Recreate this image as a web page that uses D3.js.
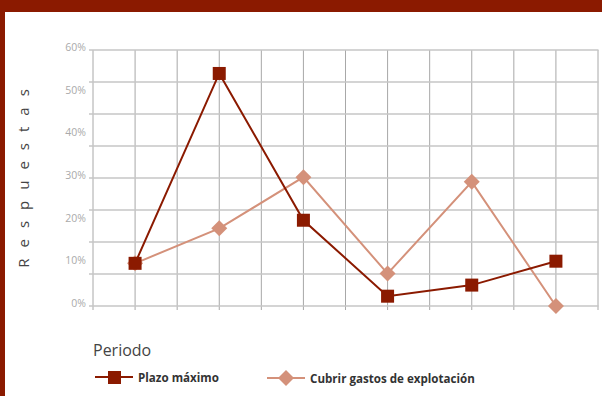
<!DOCTYPE html>
<html>
<head>
<meta charset="utf-8">
<script src="https://cdn.jsdelivr.net/npm/d3@7"></script>
<style>
  html, body { margin: 0; padding: 0; background: #fff; }
  svg { display: block; }
</style>
</head>
<body>
<svg id="chart" width="602" height="396"></svg>
<script>
// Periods (six points along the x axis, unlabeled)
const periods = ["P1", "P2", "P3", "P4", "P5", "P6"];
// Share of responses per period
const plazoMaximo = [0.100, 0.545, 0.201, 0.023, 0.049, 0.105];
const cubrirGastos = [0.100, 0.182, 0.302, 0.076, 0.291, 0.000];
// Y tick labels
const yTickValues = [0, 0.1, 0.2, 0.3, 0.4, 0.5, 0.6];
const seriesNames = ["Plazo máximo", "Cubrir gastos de explotación"];

const W = 602, H = 396;
const dark = "#8b1a00", light = "#d4917a";
const svg = d3.select("#chart");

// frame: top band and left band
svg.append("rect").attr("x", 0).attr("y", 0).attr("width", W).attr("height", 12).attr("fill", dark);
svg.append("rect").attr("x", 0).attr("y", 0).attr("width", 5).attr("height", H).attr("fill", dark);

const plotLeft = 93, plotRight = 598, plotTop = 50, plotBottom = 306;
const x = d3.scalePoint().domain(periods).range([plotLeft, plotRight]).padding(0.5);
const y = d3.scaleLinear().domain([0, 0.6]).range([plotBottom, plotTop]);
const step = x.step();

// vertical grid: one line every half step, with small ticks below the axis
const vLines = d3.range(0, periods.length * 2 + 1).map(k => plotLeft + k * step / 2);
svg.append("g").selectAll("line").data(vLines).join("line")
  .attr("x1", d => d).attr("x2", d => d)
  .attr("y1", plotTop).attr("y2", plotBottom + 4)
  .attr("stroke", "#a8a8a8").attr("stroke-width", 1);

// horizontal grid every 7.5%
const hVals = d3.range(0, 9).map(k => k * 0.075);
svg.append("g").selectAll("line").data(hVals).join("line")
  .attr("x1", plotLeft - 4).attr("x2", plotRight + 0.5)
  .attr("y1", d => y(d)).attr("y2", d => y(d))
  .attr("stroke", "#c6c6c6").attr("stroke-width", 1.6);

// y tick labels
svg.append("g").selectAll("text").data(yTickValues).join("text")
  .attr("x", 86).attr("y", d => y(d) - 3)
  .attr("text-anchor", "end").attr("dominant-baseline", "central")
  .attr("font-family", "Open Sans, sans-serif").attr("font-size", 10.5)
  .attr("fill", "#aaaaaa")
  .text(d => d3.format(".0%")(d));

// y axis title with spaced letters
svg.append("text")
  .attr("transform", `translate(29,173) rotate(-90)`)
  .attr("text-anchor", "middle")
  .attr("font-family", "Open Sans, sans-serif").attr("font-size", 15)
  .attr("letter-spacing", 11)
  .attr("fill", "#444")
  .text("Respuestas");

const line = d3.line().x((d, i) => x(periods[i])).y(d => y(d));

// lighter series first so the dark markers sit on top
svg.append("path").datum(cubrirGastos).attr("d", line)
  .attr("fill", "none").attr("stroke", light).attr("stroke-width", 2);
svg.append("g").selectAll("path").data(cubrirGastos).join("path")
  .attr("d", d3.symbol().type(d3.symbolSquare).size(128))
  .attr("transform", (d, i) => `translate(${x(periods[i])},${y(d)}) rotate(45)`)
  .attr("fill", light);

svg.append("path").datum(plazoMaximo).attr("d", line)
  .attr("fill", "none").attr("stroke", dark).attr("stroke-width", 2);
svg.append("g").selectAll("rect").data(plazoMaximo).join("rect")
  .attr("x", (d, i) => x(periods[i]) - 6.5).attr("y", d => y(d) - 6.5)
  .attr("width", 13).attr("height", 13)
  .attr("fill", dark);

// x axis title
svg.append("text")
  .attr("x", 93).attr("y", 356)
  .attr("font-family", "Open Sans, sans-serif").attr("font-size", 16)
  .attr("fill", "#444")
  .text("Periodo");

// legend
const legend = svg.append("g").attr("font-family", "Open Sans, sans-serif")
  .attr("font-size", 11.6).attr("font-weight", "bold").attr("fill", "#333");
legend.append("line").attr("x1", 95).attr("x2", 133).attr("y1", 377).attr("y2", 377)
  .attr("stroke", dark).attr("stroke-width", 2);
legend.append("rect").attr("x", 108).attr("y", 371).attr("width", 13).attr("height", 13).attr("fill", dark);
legend.append("text").attr("x", 138).attr("y", 377).attr("dominant-baseline", "central").text(seriesNames[0]);

legend.append("line").attr("x1", 267).attr("x2", 305).attr("y1", 378).attr("y2", 378)
  .attr("stroke", light).attr("stroke-width", 2);
legend.append("path").attr("d", d3.symbol().type(d3.symbolSquare).size(128))
  .attr("transform", "translate(286,378) rotate(45)").attr("fill", light);
legend.append("text").attr("x", 310).attr("y", 378).attr("dominant-baseline", "central").text(seriesNames[1]);
</script>
</body>
</html>
